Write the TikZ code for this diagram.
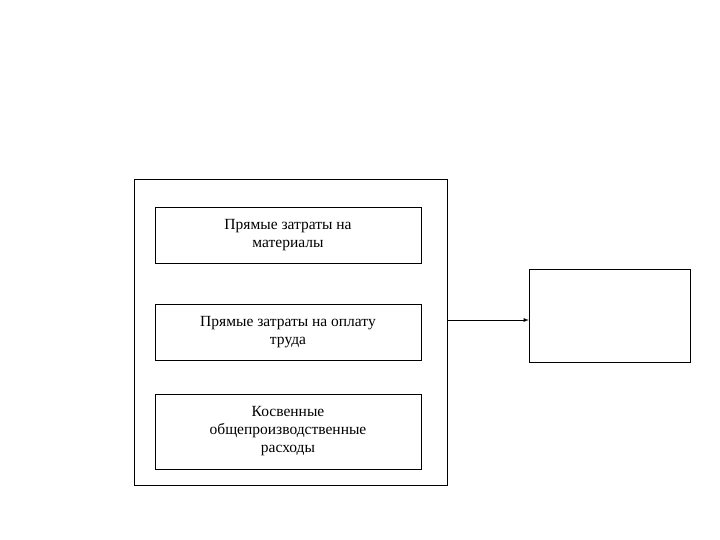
\documentclass[tikz,border=0pt]{standalone}
\usepackage{fontspec}
\setmainfont{Liberation Serif}
\begin{document}
\begin{tikzpicture}[x=1pt,y=-1pt,
  box/.style={draw,thin,inner sep=0pt,align=center,font=\fontsize{15.5}{18}\selectfont}]
\useasboundingbox (0,0) rectangle (720,540);
\node[draw,thin,minimum width=313pt,minimum height=306pt,inner sep=0pt] (outer) at (290.5,332) {};
\node[box,minimum width=266pt,minimum height=56pt] (a) at (288,235) {Прямые затраты на\\материалы};
\node[box,minimum width=266pt,minimum height=56pt] (b) at (288,332) {Прямые затраты на оплату\\труда};
\node[box,minimum width=266pt,minimum height=75pt] (c) at (288,431.5) {Косвенные\\общепроизводственные\\расходы};
\node[draw,thin,minimum width=161pt,minimum height=93pt,inner sep=0pt] (r) at (609.5,315.5) {};
\draw[->,thick,>=latex] (outer.east |- 0,320) -- (r.west |- 0,320);
\end{tikzpicture}
\end{document}
